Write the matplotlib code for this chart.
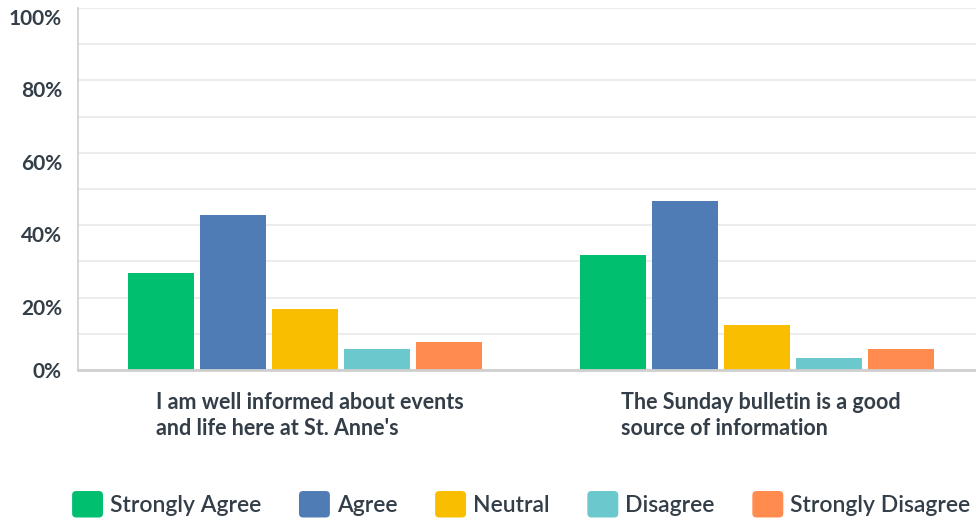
import numpy as np
import matplotlib.pyplot as plt
from matplotlib.transforms import blended_transform_factory, offset_copy
from matplotlib.patches import Patch, FancyBboxPatch
from matplotlib.legend_handler import HandlerPatch

# survey answers, percent of respondents
questions = [
    "I am well informed about events\nand life here at St. Anne's",
    "The Sunday bulletin is a good\nsource of information",
]
answers = ["Strongly Agree", "Agree", "Neutral", "Disagree", "Strongly Disagree"]
strongly_agree = [26.7, 31.7]
agree = [42.8, 46.7]
neutral = [16.9, 12.5]
disagree = [5.8, 3.3]
strongly_disagree = [7.8, 5.8]
y_ticks = [0, 20, 40, 60, 80, 100]

colors = ["#00bf6f", "#507cb6", "#f9be00", "#6bc8cd", "#ff8b4f"]
text_color = "#333e48"

plt.rcParams["font.family"] = ["Lato", "DejaVu Sans"]


class RoundedSquare(HandlerPatch):
    """Legend key drawn as a square with rounded corners"""

    def create_artists(self, legend, orig_handle, xdescent, ydescent,
                       width, height, fontsize, trans):
        patch = FancyBboxPatch((-xdescent, -ydescent), width, height,
                               boxstyle="round,pad=0,rounding_size=3",
                               facecolor=orig_handle.get_facecolor(),
                               edgecolor="none", transform=trans)
        return [patch]


figure = plt.figure(figsize=(9.76, 5.22), dpi=100)
ax = figure.add_axes([0.0799, 0.2912, 0.9201, 0.6935])

series = [strongly_agree, agree, neutral, disagree, strongly_disagree]
x = np.arange(len(questions))
bar_width = 0.146
step = 0.1595
for i, (values, color, label) in enumerate(zip(series, colors, answers)):
    offset = (i - 2) * step
    ax.bar(x + offset, values, width=bar_width, color=color, label=label, zorder=3)

ax.set_xlim(-0.503, 1.486)
ax.set_ylim(0, 100)
ax.set_yticks(y_ticks)
ax.set_yticks(np.arange(0, 101, 10), minor=True)
ax.grid(axis="y", which="both", color="#ececec", linewidth=1.5, zorder=0)
ax.tick_params(axis="both", which="both", length=0,
               labelleft=False, labelbottom=False)

# y labels sit a little under their gridlines, like the original
label_trans = blended_transform_factory(ax.transAxes, ax.transData)
for t in y_ticks:
    shift = -2 if t == 0 else -11
    ax.text(-0.0178, t, f"{t}%", ha="right", va="center", fontsize=15,
            fontweight="bold", color=text_color, clip_on=False,
            transform=offset_copy(label_trans, fig=figure, y=shift, units="dots"))

for side in ["top", "right"]:
    ax.spines[side].set_visible(False)
ax.spines["left"].set_color("#cfcfcf")
ax.spines["left"].set_linewidth(1.2)
ax.spines["bottom"].set_color("#cfcfcf")
ax.spines["bottom"].set_linewidth(2)
ax.spines["bottom"].set_zorder(4)

trans = blended_transform_factory(ax.transData, ax.transAxes)
for xi, q in zip(x, questions):
    ax.text(xi + 0.01, -0.06, q, transform=trans, ha="center", va="top",
            multialignment="left", fontsize=15.5, fontweight="bold",
            color=text_color, linespacing=1.3)

handles = [Patch(facecolor=c) for c in colors]
legend = figure.legend(handles, answers, loc="center", ncol=5,
                       bbox_to_anchor=(0.534, 0.034), frameon=False,
                       fontsize=16.5, handlelength=1.35, handleheight=1.4,
                       handletextpad=0.3, columnspacing=1.65,
                       handler_map={Patch: RoundedSquare()})
for t in legend.get_texts():
    t.set_color(text_color)
    t.set_fontweight("semibold")

figure.savefig("out.png", dpi=100)
